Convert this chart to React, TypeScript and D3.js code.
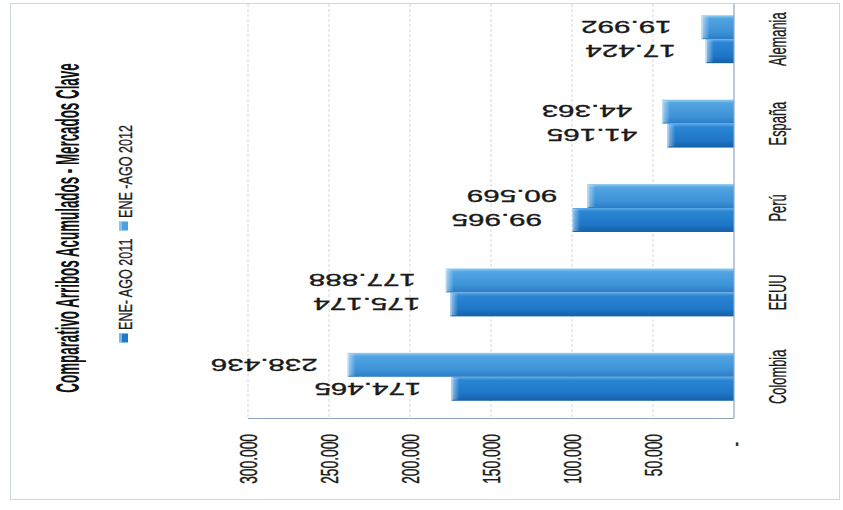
import React from "react";
import * as d3 from "d3";

// Accumulated arrivals, January–August, key markets
const categories = ["Colombia", "EEUU", "Perú", "España", "Alemania"];
const arribos2011 = [174465, 175174, 99965, 41165, 17424];
const arribos2012 = [238436, 177888, 90569, 44363, 19992];
const seriesNames = ["ENE- AGO 2011", "ENE -AGO 2012"];
const valueTicks = [0, 50000, 100000, 150000, 200000, 250000, 300000];
const title = "Comparativo Arribos Acumulados - Mercados Clave";

const W = 843;
const H = 510;

const esLocale = d3.formatLocale({
  decimal: ",",
  thousands: ".",
  grouping: [3],
  currency: ["$", ""],
});
const fmt = esLocale.format(",d");

const FONT = "'Liberation Sans', Arial, sans-serif";
const INK = "#1a1a1a";

export default function App() {
  // value axis runs right-to-left, categories stacked top-to-bottom
  const x = d3.scaleLinear().domain([0, 300000]).range([734, 248]);
  const y = d3.scaleBand<string>().domain(categories).range([419, -3]);
  const bw = y.bandwidth();
  const sub = d3
    .scaleBand<string>()
    .domain(seriesNames)
    .range([bw, 0])
    .paddingInner(0)
    .paddingOuter(0.76);

  const series = [
    { name: seriesNames[0], values: arribos2011, fill: "url(#g2011)", swatch: "#1f78c8" },
    { name: seriesNames[1], values: arribos2012, fill: "url(#g2012)", swatch: "#4a9fe0" },
  ];

  const axisY = 418;
  const x0 = x(0);

  return (
    <div style={{ position: "absolute", left: 0, top: 0 }}>
      <svg width={W} height={H} style={{ display: "block", background: "#fff" }}>
        <defs>
          <linearGradient id="g2011" x1="0" y1="0" x2="0" y2="1">
            <stop offset="0" stopColor="#62aeea" />
            <stop offset="0.14" stopColor="#2a86d4" />
            <stop offset="0.7" stopColor="#1e76c6" />
            <stop offset="1" stopColor="#145fa8" />
          </linearGradient>
          <linearGradient id="g2012" x1="0" y1="0" x2="0" y2="1">
            <stop offset="0" stopColor="#98cff4" />
            <stop offset="0.14" stopColor="#52a4e2" />
            <stop offset="0.7" stopColor="#3d93d8" />
            <stop offset="1" stopColor="#2b7cc4" />
          </linearGradient>
          <linearGradient id="bevel" x1="0" y1="0" x2="1" y2="0">
            <stop offset="0" stopColor="#ffffff" stopOpacity="0.55" />
            <stop offset="1" stopColor="#ffffff" stopOpacity="0" />
          </linearGradient>
        </defs>

        {/* outer chart border */}
        <rect x={10.5} y={3.5} width={829} height={496} fill="#fff" stroke="#cfd8e0" />

        {/* gridlines */}
        {valueTicks
          .filter((t) => t > 0)
          .map((t) => (
            <line
              key={"g" + t}
              x1={x(t)}
              x2={x(t)}
              y1={4}
              y2={axisY}
              stroke="#d6d6d6"
              strokeDasharray="3,2"
            />
          ))}

        {/* bars */}
        {series.map((s) =>
          categories.map((c, i) => {
            const v = s.values[i];
            const by = (y(c) as number) + (sub(s.name) as number);
            const bh = sub.bandwidth();
            const bx = x(v);
            return (
              <g key={s.name + c}>
                <rect x={bx} y={by} width={x0 - bx} height={bh} fill={s.fill} />
                <rect x={bx} y={by + 1} width={8} height={bh - 2} fill="url(#bevel)" />
                <rect x={bx} y={by} width={1.2} height={bh} fill="#bfe2fa" opacity={0.7} />
              </g>
            );
          })
        )}

        {/* value labels, upside down */}
        {series.map((s) =>
          categories.map((c, i) => {
            const v = s.values[i];
            const cy = (y(c) as number) + (sub(s.name) as number) + sub.bandwidth() / 2;
            const xr = x(v) - 30;
            return (
              <text
                key={"l" + s.name + c}
                transform={`translate(${xr},${cy - 6.2}) scale(1.72,1) rotate(180)`}
                fontFamily={FONT}
                fontSize={17.2}
                fill={INK}
                stroke={INK}
                strokeWidth={0.35}
                textAnchor="start"
              >
                {fmt(v)}
              </text>
            );
          })
        )}

        {/* axes */}
        <line x1={x(300000)} x2={x0} y1={axisY + 0.5} y2={axisY + 0.5} stroke="#8fa6bf" strokeWidth={1.2} />
        <line x1={x0} x2={x0} y1={4} y2={axisY} stroke="#8fa6bf" strokeWidth={1.2} />

        {/* value tick labels */}
        {valueTicks.map((t) => (
          <text
            key={"t" + t}
            transform={`translate(${x(t) + 8.5},${t === 0 ? 442 : 434}) scale(1,0.6) rotate(-90)`}
            fontFamily={FONT}
            fontSize={23}
            fill={INK}
            stroke={INK}
            strokeWidth={0.4}
            textAnchor="end"
          >
            {t === 0 ? "-" : fmt(t)}
          </text>
        ))}

        {/* category labels */}
        {categories.map((c) => (
          <text
            key={"c" + c}
            transform={`translate(786,${(y(c) as number) + bw / 2}) scale(1,0.56) rotate(-90)`}
            fontFamily={FONT}
            fontSize={23}
            fill={INK}
            stroke={INK}
            strokeWidth={0.3}
            textAnchor="middle"
          >
            {c}
          </text>
        ))}

        {/* title */}
        <text
          transform={`translate(79,228) scale(1,0.405) rotate(-90)`}
          fontFamily={FONT}
          fontWeight="bold"
          fontSize={33}
          fill="#111"
          textAnchor="middle"
        >
          {title}
        </text>

        {/* legend */}
        {series.map((s, i) => {
          const sy = i === 0 ? 338 : 226;
          return (
            <g key={"lg" + s.name}>
              <rect x={119} y={sy - 4.5} width={9} height={9} fill={s.swatch} />
              <rect x={119} y={sy - 4.5} width={3} height={9} fill="#9fd2f5" opacity={0.7} />
              <text
                transform={`translate(131.5,${sy - 8}) scale(1,0.7) rotate(-90)`}
                fontFamily={FONT}
                fontSize={18}
                fill={INK}
                stroke={INK}
                strokeWidth={0.3}
                textAnchor="start"
              >
                {s.name}
              </text>
            </g>
          );
        })}
      </svg>
    </div>
  );
}
